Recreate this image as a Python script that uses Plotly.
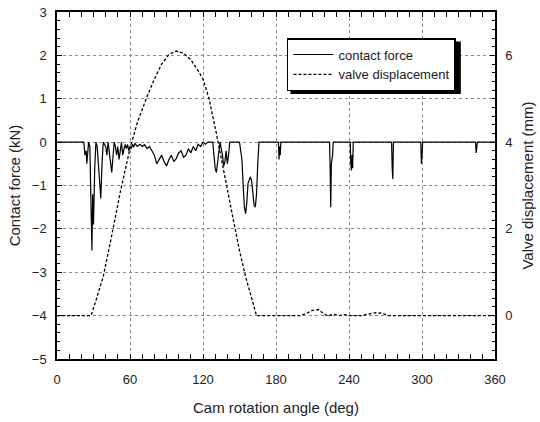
import plotly.graph_objects as go

# Contact force (kN) vs cam angle (deg)
force_angle = [0, 22, 23, 24, 24.5, 25, 26, 27, 28, 28.7, 29.3, 30, 31, 32, 33, 34, 35, 36, 37, 38,
               40, 41, 42, 43, 44, 45, 46, 47, 48, 49, 50, 51, 52, 53, 54, 55, 56, 57, 58, 59, 60,
               61, 62, 63, 64, 66, 68, 70, 72, 74, 76, 78, 80, 82, 84, 86, 88, 90, 92, 94, 96, 98,
               100, 102, 104, 106, 108, 110, 112, 114, 116, 118, 120, 122, 124, 126, 128, 129, 130,
               131, 132, 133, 134, 135, 136, 137, 138, 139, 140, 141, 142, 150, 152, 153, 154, 155,
               156, 157, 158, 159, 160, 161, 162, 163, 164, 165, 166, 182, 182.5, 183, 183.5, 184,
               224, 224.5, 225, 225.5, 226, 226.5, 227, 241, 241.5, 242, 242.5, 243, 243.5,
               275, 275.5, 276, 276.5, 299, 299.5, 300, 300.5, 344, 344.5, 345, 345.5, 360]
force_kN = [0, 0, -0.3, -0.2, -0.5, -0.35, 0, -0.1, -1.5, -2.5, -1.2, -1.9, -0.6, 0, -0.1, -0.6, -0.9, -1.3, -0.5, 0,
            -0.1, -0.3, 0, -0.2, -0.5, -0.7, -0.35, 0, -0.1, -0.3, -0.1, -0.4, -0.2, 0, -0.3, -0.2, -0.05, -0.15, -0.05, -0.2, -0.1,
            -0.15, -0.05, -0.12, -0.03, -0.1, -0.05, -0.1, -0.06, -0.15, -0.1, -0.2, -0.3, -0.5, -0.4, -0.3, -0.45, -0.55, -0.4, -0.3, -0.45, -0.38,
            -0.25, -0.2, -0.35, -0.3, -0.15, -0.25, -0.1, -0.2, -0.05, -0.1, 0, -0.05, 0, 0, 0, -0.3, -0.6,
            -0.7, -0.45, -0.2, 0, -0.15, -0.3, -0.55, -0.45, -0.2, -0.5, -0.3, 0, 0, -0.4, -1.0, -1.5, -1.65,
            -1.4, -0.95, -0.85, -0.8, -0.9, -1.2, -1.45, -1.5, -1.2, -0.5, 0, 0, -0.4, -0.1, -0.3, 0,
            0, -0.6, -1.5, -0.5, -0.4, -0.3, 0, 0, -0.5, -0.65, -0.3, -0.6, 0,
            0, -0.6, -0.85, 0, 0, -0.5, -0.35, 0, 0, -0.25, -0.15, 0, 0]

# Valve displacement (mm) vs cam angle (deg)
valve_angle = [0, 28, 32, 38, 45, 52, 60, 66, 74, 80, 86, 92, 98, 104, 110, 116, 120, 125, 131, 135,
               140, 145, 150, 155, 160, 164, 200, 205, 210, 215, 219, 222, 228, 232, 236, 240, 250,
               256, 262, 268, 272, 360]
valve_mm = [0, 0, 0.35, 0.9, 1.85, 2.85, 3.85, 4.45, 5.05, 5.45, 5.8, 6.02, 6.1, 6.05, 5.9, 5.65, 5.45, 5.0, 4.2, 3.65,
            2.95, 2.2, 1.5, 0.9, 0.4, 0, 0, 0.05, 0.12, 0.14, 0.05, 0, 0.03, 0, 0.02, 0, 0,
            0.04, 0.07, 0.05, 0, 0]

x_ticks = [0, 60, 120, 180, 240, 300, 360]
force_ticks = [-5, -4, -3, -2, -1, 0, 1, 2, 3]
valve_ticks = [0, 2, 4, 6]

FONT = "Liberation Sans, Arial, sans-serif"
TXT = "#222"

fig = go.Figure()
fig.add_trace(go.Scatter(x=force_angle, y=force_kN, mode="lines", name="contact force",
                         line=dict(color="black", width=1.2)))
fig.add_trace(go.Scatter(x=valve_angle, y=valve_mm, mode="lines", name="valve displacement",
                         yaxis="y2", line=dict(color="black", width=1.3, dash="3px,2px")))

# legend shadow
fig.add_shape(type="rect", xref="paper", yref="paper", x0=0.533, x1=0.922, y0=0.764, y1=0.915,
              fillcolor="black", line=dict(width=0), layer="above")

axis_common = dict(showline=True, linecolor="black", linewidth=1.5, ticks="inside",
                   tickcolor="black", ticklen=5, tickfont=dict(family=FONT, size=13, color=TXT),
                   zeroline=False, automargin=False)

fig.update_layout(
    width=540, height=422,
    margin=dict(l=57, r=45, t=12, b=63),
    paper_bgcolor="white", plot_bgcolor="white",
    font=dict(family=FONT, color=TXT),
    showlegend=True,
    legend=dict(x=0.525, y=0.925, xanchor="left", yanchor="top", bgcolor="white",
                bordercolor="black", borderwidth=1.5, font=dict(family=FONT, size=13, color=TXT),
                tracegroupgap=0, itemwidth=40),
    xaxis=dict(range=[0, 360], tickvals=x_ticks, mirror="allticks",
               showgrid=True, gridcolor="#888", griddash="dot", gridwidth=1,
               minor=dict(dtick=10, ticklen=3, ticks="inside", tickcolor="black", showgrid=False),
               ticklabelstandoff=8,
               title=dict(text="Cam rotation angle (deg)", font=dict(family=FONT, size=15, color=TXT), standoff=16),
               **axis_common),
    yaxis=dict(range=[-5, 3], tickvals=force_ticks,
               showgrid=True, gridcolor="#888", griddash="dot", gridwidth=1,
               minor=dict(dtick=0.2, ticklen=3, ticks="inside", tickcolor="black", showgrid=False),
               ticklabelstandoff=6,
               title=dict(text="Contact force (kN)", font=dict(family=FONT, size=15, color=TXT), standoff=8),
               **axis_common),
    yaxis2=dict(range=[-1, 7], tickvals=valve_ticks, overlaying="y", side="right",
                showgrid=False,
                minor=dict(dtick=0.2, ticklen=3, ticks="inside", tickcolor="black", showgrid=False),
                ticklabelstandoff=6,
                title=dict(text="Valve displacement (mm)", font=dict(family=FONT, size=15, color=TXT), standoff=11),
                **axis_common),
)

fig.write_html("out.html")
